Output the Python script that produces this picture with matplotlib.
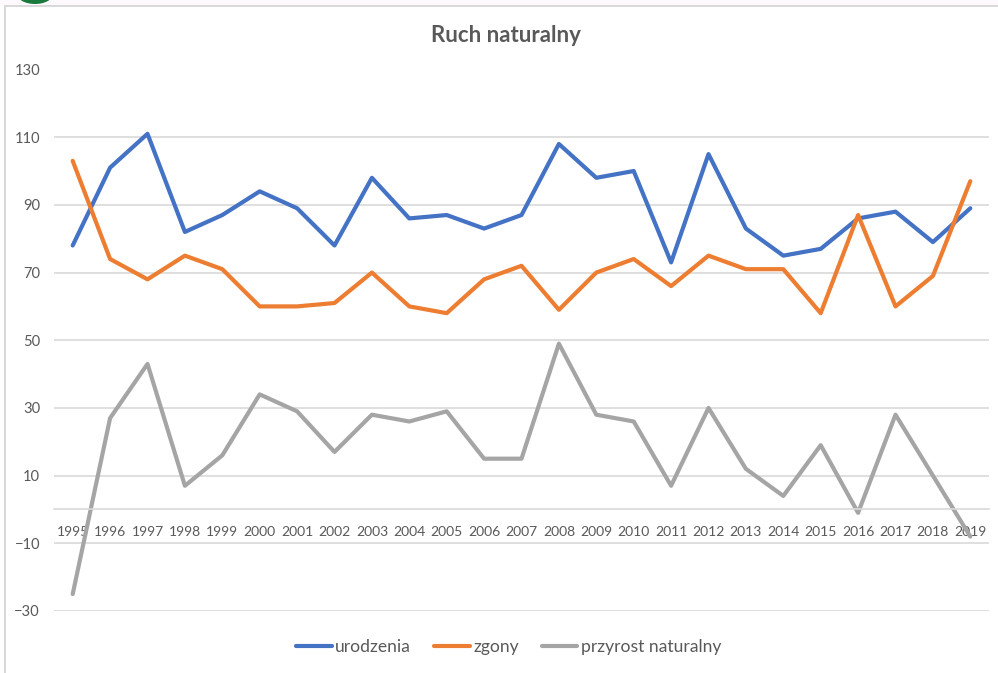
import matplotlib
matplotlib.use('Agg')
import matplotlib.pyplot as plt
from matplotlib.patches import Ellipse, Rectangle

years = list(range(1995, 2020))
urodzenia = [78, 101, 111, 82, 87, 94, 89, 78, 98, 86, 87, 83, 87, 108, 98, 100, 73, 105, 83, 75, 77, 86, 88, 79, 89]
zgony = [103, 74, 68, 75, 71, 60, 60, 61, 70, 60, 58, 68, 72, 59, 70, 74, 66, 75, 71, 71, 58, 87, 60, 69, 97]
przyrost = [-25, 27, 43, 7, 16, 34, 29, 17, 28, 26, 29, 15, 15, 49, 28, 26, 7, 30, 12, 4, 19, -1, 28, 10, -8]
y_ticks = [-30, -10, 10, 30, 50, 70, 90, 110, 130]

plt.rcParams['font.family'] = ['Lato', 'DejaVu Sans']
W, H = 998, 673
fig = plt.figure(figsize=(W / 100, H / 100), dpi=100)
fig.patch.set_facecolor('white')

# window chrome around the pasted chart
fig.add_artist(Rectangle((0, 1 - 5 / H), 1, 5 / H, transform=fig.transFigure, fc='#fdf9fd', ec='none'))
fig.add_artist(Rectangle((4 / W, 0), 2 / W, 1 - 5 / H, transform=fig.transFigure, fc='#d9d9d9', ec='none'))
fig.add_artist(Rectangle((4 / W, 1 - 7 / H), 1 - 4 / W, 2 / H, transform=fig.transFigure, fc='#d9d9d9', ec='none'))
fig.add_artist(Ellipse((35 / W, 1 + 6 / H), 36 / W, 20 / H, transform=fig.transFigure, fc='#1a7a3e', ec='none'))

ax = fig.add_axes([54 / W, 1 - 611 / H, (989 - 54) / W, (611 - 69.5) / H])
ax.set_xlim(1994.5, 2019.5)
ax.set_ylim(-30, 130)

ax.plot(years, urodzenia, color='#4472c4', lw=3, label='urodzenia', solid_joinstyle='round', solid_capstyle='round', clip_on=False)
ax.plot(years, zgony, color='#ed7d31', lw=3, label='zgony', solid_joinstyle='round', solid_capstyle='round', clip_on=False)
ax.plot(years, przyrost, color='#a5a5a5', lw=3, label='przyrost naturalny', solid_joinstyle='round', solid_capstyle='round', clip_on=False)

ax.set_axisbelow(True)
ax.set_yticks(y_ticks)
ax.set_xticks(years)
ax.grid(axis='y', color='#d9d9d9', lw=1.2)
ax.tick_params(axis='y', length=0, pad=10, labelsize=10.6, labelcolor='#595959')
ax.tick_params(axis='x', length=0, pad=12, labelsize=10, labelcolor='#595959')
for s in ['top', 'left', 'right']:
    ax.spines[s].set_visible(False)
ax.spines['bottom'].set_position(('data', 0))
ax.spines['bottom'].set_color('#d9d9d9')
ax.spines['bottom'].set_linewidth(1.2)

fig.text(506 / W, 1 - 35 / H, 'Ruch naturalny', ha='center', va='center', fontsize=16, fontweight='bold', color='#595959')

leg = ax.legend(loc='center', bbox_to_anchor=(508.5 / W, 1 - 647 / H), bbox_transform=fig.transFigure, ncol=3,
                frameon=False, fontsize=12.6, handlelength=2.05, handletextpad=0.2, columnspacing=1.3)
for t in leg.get_texts():
    t.set_color('#595959')

fig.savefig('out.png', dpi=100)
